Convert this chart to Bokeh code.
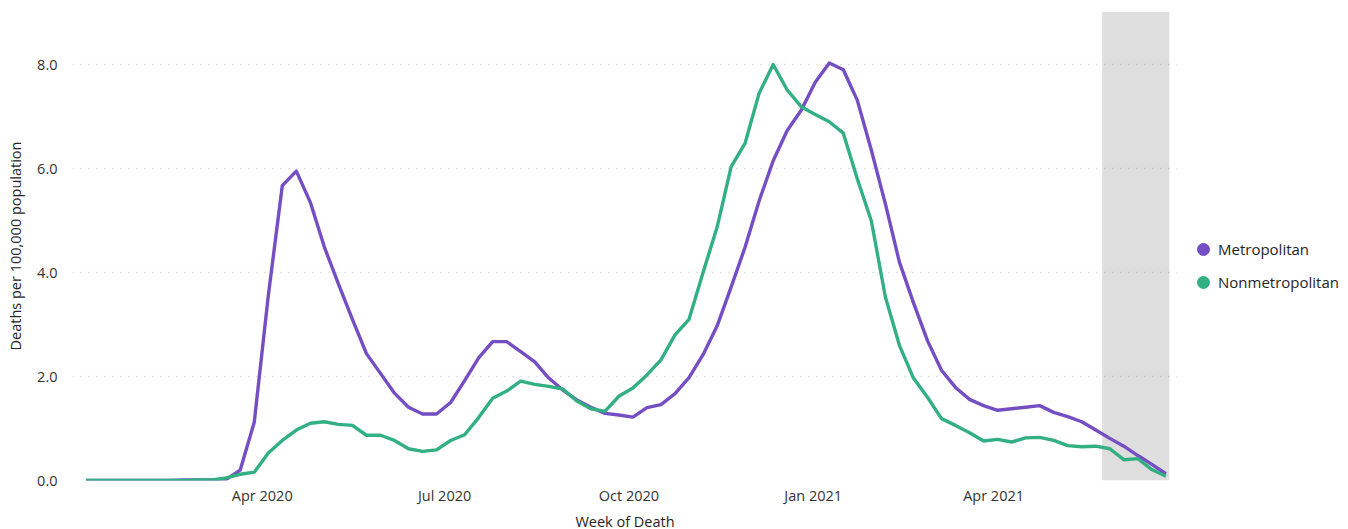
import pandas as pd
from bokeh.plotting import figure
from bokeh.models import (Range1d, FixedTicker, DatetimeTickFormatter, BoxAnnotation,
                          Legend, LegendItem, ColumnDataSource, PrintfTickFormatter)
from bokeh.embed import file_html
from bokeh.resources import INLINE

# ---- data -------------------------------------------------------------
first_week = "2020-01-04"   # weeks ending Saturday
metropolitan = [
    0.00, 0.00, 0.00, 0.00, 0.00, 0.00, 0.00, 0.01, 0.01, 0.01,
    0.02, 0.20, 1.12, 3.55, 5.67, 5.95, 5.35, 4.49, 3.78, 3.10,
    2.44, 2.06, 1.68, 1.41, 1.28, 1.28, 1.50, 1.92, 2.36, 2.67,
    2.67, 2.48, 2.28, 1.97, 1.74, 1.55, 1.41, 1.29, 1.26, 1.22,
    1.40, 1.46, 1.67, 1.98, 2.42, 2.97, 3.72, 4.49, 5.38, 6.15,
    6.73, 7.12, 7.66, 8.03, 7.90, 7.31, 6.35, 5.32, 4.20, 3.42,
    2.69, 2.12, 1.79, 1.56, 1.44, 1.35, 1.38, 1.41, 1.44, 1.31,
    1.23, 1.13, 0.97, 0.81, 0.66, 0.48, 0.31, 0.13,
]
nonmetropolitan = [
    0.00, 0.00, 0.00, 0.00, 0.00, 0.00, 0.00, 0.00, 0.01, 0.01,
    0.05, 0.12, 0.16, 0.53, 0.77, 0.97, 1.10, 1.13, 1.08, 1.06,
    0.87, 0.87, 0.77, 0.61, 0.56, 0.59, 0.77, 0.88, 1.21, 1.58,
    1.72, 1.91, 1.85, 1.81, 1.76, 1.53, 1.38, 1.33, 1.62, 1.78,
    2.03, 2.32, 2.80, 3.10, 4.00, 4.87, 6.03, 6.49, 7.45, 8.00,
    7.51, 7.19, 7.04, 6.90, 6.68, 5.80, 4.99, 3.53, 2.60, 1.97,
    1.60, 1.19, 1.06, 0.92, 0.76, 0.79, 0.74, 0.82, 0.83, 0.77,
    0.67, 0.65, 0.66, 0.61, 0.40, 0.42, 0.21, 0.08,
]
series_names = ["Metropolitan", "Nonmetropolitan"]
x_tick_dates = ["2020-04-01", "2020-07-01", "2020-10-01", "2021-01-01", "2021-04-01"]
y_ticks = [0, 2, 4, 6, 8]
incomplete_start = "2021-05-25 05:00"
incomplete_end = "2021-06-27 17:00"
x_limits = ["2019-12-28 07:00", "2021-07-01 19:00"]
y_limits = [0, 9.02]

# ---- styling ----------------------------------------------------------
PURPLE = "#744EC2"
GREEN = "#33B083"
FONT = "Open Sans"
TXT = "#252423"

weeks = pd.date_range(first_week, periods=len(metropolitan), freq="7D")
src = ColumnDataSource(dict(week=weeks, metro=metropolitan, nonmetro=nonmetropolitan))

def ms(d):
    return pd.Timestamp(d).value // 10**6

p = figure(x_axis_type="datetime",
           frame_width=1105, frame_height=469,
           min_border_left=72, min_border_right=171,
           min_border_top=11, min_border_bottom=49,
           x_range=Range1d(ms(x_limits[0]), ms(x_limits[1])),
           y_range=Range1d(*y_limits),
           output_backend="svg", toolbar_location=None)
p.outline_line_color = None
p.background_fill_color = "white"
p.border_fill_color = "white"

# grid
p.xgrid.visible = False
p.ygrid.ticker = FixedTicker(ticks=y_ticks)
p.ygrid.grid_line_color = "#C4C4C4"
p.ygrid.grid_line_dash = "1 7"
p.ygrid.grid_line_width = 1.3

# shaded region (incomplete data)
band = BoxAnnotation(left=ms(incomplete_start), right=ms(incomplete_end), bottom=0,
                     fill_color="black", fill_alpha=0.13, line_color=None, level="underlay")
p.add_layout(band)

# lines
p.line("week", "metro", source=src, line_color=PURPLE, line_width=3.4, line_join="round")
p.line("week", "nonmetro", source=src, line_color=GREEN, line_width=3.4, line_join="round")

# legend markers: scatter renderers mapped to a far-away extra range so that
# their points fall outside the (clipped) frame; only the legend glyphs show
p.extra_y_ranges = {"legend_only": Range1d(100, 101)}
d1 = p.scatter("week", "metro", source=src, y_range_name="legend_only",
               marker="circle", size=13, fill_color=PURPLE, line_color=PURPLE)
d2 = p.scatter("week", "nonmetro", source=src, y_range_name="legend_only",
               marker="circle", size=13, fill_color=GREEN, line_color=GREEN)

# axes
xa = p.xaxis[0]
xa.ticker = FixedTicker(ticks=[ms(d) for d in x_tick_dates])
xa.formatter = DatetimeTickFormatter(days="%b %Y", months="%b %Y", years="%b %Y",
                                     hours="%b %Y", minutes="%b %Y", context=None)
xa.axis_label = "Week of Death"
ya = p.yaxis[0]
ya.ticker = FixedTicker(ticks=y_ticks)
ya.formatter = PrintfTickFormatter(format="%.1f")
ya.axis_label = "Deaths per 100,000 population"
for ax in (xa, ya):
    ax.axis_line_color = None
    ax.major_tick_line_color = None
    ax.minor_tick_line_color = None
    ax.major_tick_out = 0
    ax.major_tick_in = 0
    ax.minor_tick_out = 0
    ax.minor_tick_in = 0
    ax.major_label_text_font = FONT
    ax.major_label_text_font_size = "14.5px"
    ax.major_label_text_color = "#333333"
    ax.axis_label_text_font = FONT
    ax.axis_label_text_font_size = "14.5px"
    ax.axis_label_text_font_style = "normal"
    ax.axis_label_text_color = TXT
xa.major_label_standoff = 5
xa.axis_label_standoff = 4
ya.major_label_standoff = 15
ya.axis_label_standoff = 9

# legend glyph box 30px -> marker drawn at 0.4 * 30 = 12px
legend = Legend(items=[LegendItem(label=series_names[0], renderers=[d1]),
                       LegendItem(label=series_names[1], renderers=[d2])],
                location=(11, 183), orientation="vertical",
                margin=0, padding=0, spacing=3,
                glyph_width=30, glyph_height=30, label_height=14, label_standoff=0,
                label_text_font=FONT, label_text_font_size="15px", label_text_color=TXT,
                border_line_color=None, background_fill_alpha=0)
p.add_layout(legend, "right")

open("out.html", "w").write(file_html(p, INLINE))
